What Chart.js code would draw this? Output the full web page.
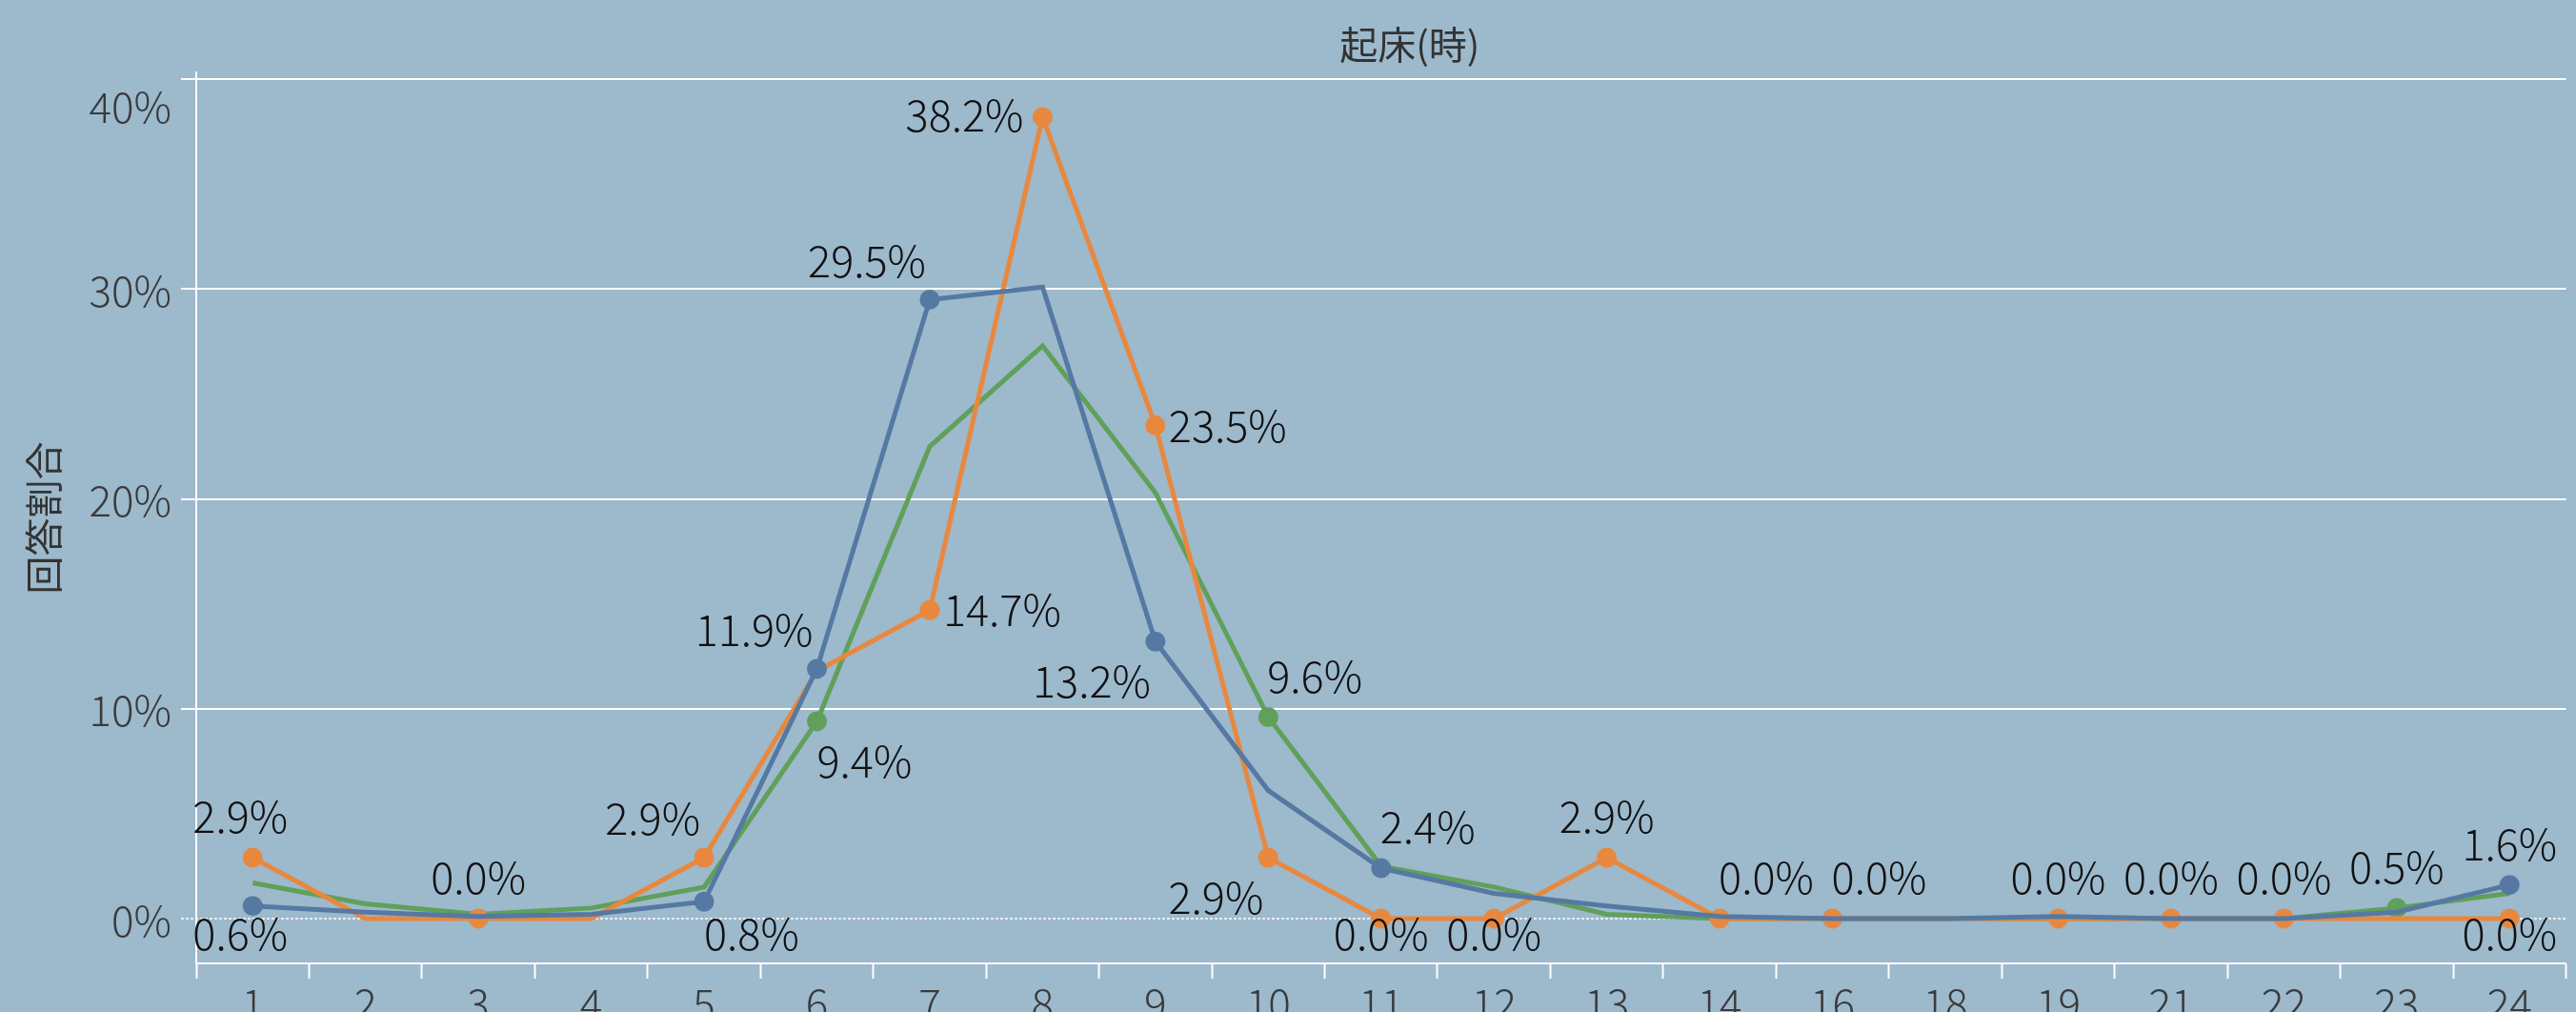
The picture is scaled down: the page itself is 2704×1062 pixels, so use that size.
<!DOCTYPE html>
<html>
<head>
<meta charset="utf-8">
<script src="https://cdn.jsdelivr.net/npm/chart.js@4.4.1/dist/chart.umd.min.js"></script>
<style>
  html, body { margin: 0; padding: 0; overflow: hidden; background: #9db9cc; }
  #wrap { width: 2704px; height: 1100px; }
</style>
</head>
<body>
<div id="wrap"><canvas id="chart"></canvas></div>
<script>
// hour of waking up (x categories)
const hours = ["1", "2", "3", "4", "5", "6", "7", "8", "9", "10", "11", "12", "13", "14", "16", "18", "19", "21", "22", "23", "24"];

// share of answers, %
const orangeValues = [2.9, 0.0, 0.0, 0.0, 2.9, 11.8, 14.7, 38.2, 23.5, 2.9, 0.0, 0.0, 2.9, 0.0, 0.0, 0.0, 0.0, 0.0, 0.0, 0.0, 0.0];
const blueValues = [0.6, 0.3, 0.1, 0.2, 0.8, 11.9, 29.5, 30.1, 13.2, 6.1, 2.4, 1.2, 0.6, 0.1, 0.0, 0.0, 0.1, 0.0, 0.0, 0.3, 1.6];
const greenValues = [1.7, 0.7, 0.2, 0.5, 1.5, 9.4, 22.5, 27.3, 20.3, 9.6, 2.5, 1.5, 0.2, 0.0, 0.0, 0.0, 0.0, 0.0, 0.0, 0.5, 1.2];

const yTicks = [0, 10, 20, 30, 40];

// where a marker + value label is shown (null = plain line)
const orangeLabelPos = ["aboveShift", null, "above", null, "aboveLeft", null, "right", "left", "right", "belowLeft", "below", "below", "above", "aboveRight", "aboveRight", null, "above", "above", "above", null, "below"];
const blueLabelPos = ["belowShift", null, null, null, "belowRight", "aboveLeft", "aboveLeft", null, "belowLeft", null, "aboveRight", null, null, null, null, null, null, null, null, null, "above"];
const greenLabelPos = [null, null, null, null, null, "belowRight", null, null, null, "aboveRight", null, null, null, null, null, null, null, null, null, "above", null];

const anchors = {
  above: { align: "center", dx: 0, dy: -43 },
  below: { align: "center", dx: 0, dy: 42 },
  aboveShift: { align: "center", dx: -13, dy: -43 },
  belowShift: { align: "center", dx: -13, dy: 42 },
  aboveLeft: { align: "right", dx: -4, dy: -41 },
  aboveRight: { align: "left", dx: -1, dy: -43 },
  belowLeft: { align: "right", dx: -5, dy: 42 },
  belowRight: { align: "left", dx: 0, dy: 42 },
  right: { align: "left", dx: 14, dy: 0 },
  left: { align: "right", dx: -20, dy: -2 },
};

const FONT = "'Noto Sans CJK JP', 'Noto Sans', sans-serif";

function makeSeries(label, values, color, labelPos) {
  return {
    label: label,
    data: values,
    labelPos: labelPos,
    borderColor: color,
    backgroundColor: color,
    borderWidth: 5,
    tension: 0,
    pointRadius: (ctx) => (labelPos[ctx.dataIndex] ? 10.5 : 0),
    pointBackgroundColor: color,
    pointBorderWidth: 0,
    fill: false,
  };
}

const overlayPlugin = {
  id: "overlay",
  beforeDatasetsDraw(chart) {
    const { ctx, chartArea, scales } = chart;
    const y0 = scales.y.getPixelForValue(0);
    ctx.save();
    ctx.strokeStyle = "#ffffff";
    ctx.lineWidth = 1.5;
    ctx.setLineDash([3, 2]);
    ctx.beginPath();
    ctx.moveTo(chartArea.left - 16, y0);
    ctx.lineTo(chartArea.right, y0);
    ctx.stroke();
    ctx.restore();
  },
  afterDatasetsDraw(chart) {
    const { ctx, chartArea } = chart;
    ctx.save();
    ctx.font = "300 45px " + FONT;
    ctx.fillStyle = "#111111";
    ctx.textBaseline = "middle";
    chart.data.datasets.forEach((ds, di) => {
      const meta = chart.getDatasetMeta(di);
      ds.data.forEach((v, i) => {
        const pos = ds.labelPos[i];
        if (!pos) return;
        const a = anchors[pos];
        const pt = meta.data[i];
        let y = pt.y + a.dy;
        y = Math.min(y, chartArea.bottom - 31);
        ctx.textAlign = a.align;
        ctx.fillText(v.toFixed(1) + "%", pt.x + a.dx, y);
      });
    });
    ctx.restore();
  },
  afterDraw(chart) {
    const { ctx, chartArea, scales } = chart;
    ctx.save();
    // y tick labels
    ctx.font = "300 44px " + FONT;
    ctx.fillStyle = "#3a3a3a";
    ctx.textAlign = "right";
    ctx.textBaseline = "middle";
    yTicks.forEach((v) => {
      const y = Math.max(scales.y.getPixelForValue(v), chartArea.top + 34);
      ctx.fillText(v + "%", chartArea.left - 26, y + 2);
    });
    // title
    ctx.font = "40px " + FONT;
    ctx.fillStyle = "#333333";
    ctx.textAlign = "center";
    ctx.fillText("起床(時)", (chartArea.left + chartArea.right) / 2 + 30, 47);
    ctx.restore();
  },
};

new Chart(document.getElementById("chart"), {
  type: "line",
  data: {
    labels: hours,
    datasets: [
      makeSeries("blue", blueValues, "#5579a3", blueLabelPos),
      makeSeries("orange", orangeValues, "#e8883f", orangeLabelPos),
      makeSeries("green", greenValues, "#60a05a", greenLabelPos),
    ],
  },
  options: {
    responsive: true,
    maintainAspectRatio: false,
    animation: false,
    events: [],
    layout: { padding: { top: 76, right: 2, left: 0, bottom: 0 } },
    plugins: {
      legend: { display: false },
      title: { display: false },
      tooltip: { enabled: false },
    },
    scales: {
      x: {
        type: "category",
        offset: true,
        afterFit(scale) { scale.height = 89; },
        grid: {
          offset: true,
          drawOnChartArea: false,
          drawTicks: true,
          tickLength: 16,
          tickColor: "#ffffff",
          tickWidth: 2,
        },
        border: { display: true, color: "#ffffff", width: 2 },
        ticks: {
          autoSkip: false,
          maxRotation: 0,
          padding: 0,
          color: "#3a3a3a",
          font: { family: FONT, size: 44, weight: "300" },
        },
      },
      y: {
        min: -2.14,
        max: 40.33,
        afterFit(scale) { scale.width = 206; },
        afterBuildTicks(scale) {
          scale.ticks = yTicks.map((v) => ({ value: v }));
        },
        grid: {
          color: (ctx) => (ctx.tick && ctx.tick.value === 0 ? "rgba(0,0,0,0)" : "#ffffff"),
          lineWidth: 2,
          drawTicks: true,
          tickLength: 16,
        },
        border: { display: true, color: "#ffffff", width: 2 },
        ticks: { display: false },
        title: {
          display: true,
          text: "回答割合",
          color: "#333333",
          font: { family: FONT, size: 40 },
          padding: { top: 22, bottom: 0 },
        },
      },
    },
  },
  plugins: [overlayPlugin],
});
</script>
</body>
</html>
